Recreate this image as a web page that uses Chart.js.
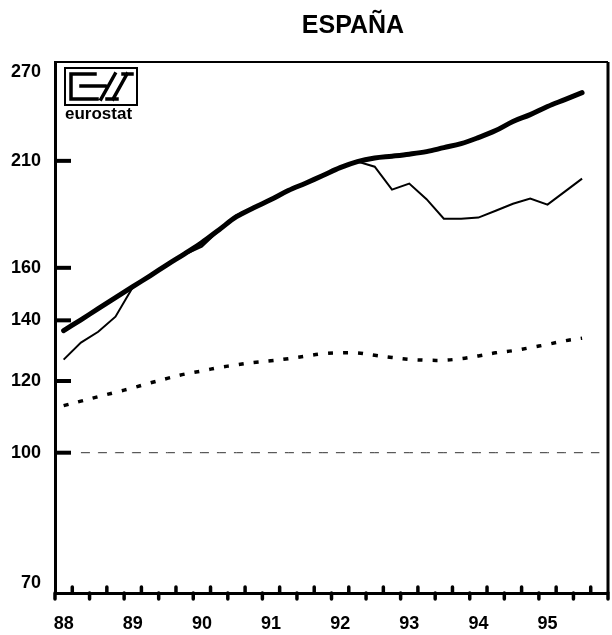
<!DOCTYPE html>
<html>
<head>
<meta charset="utf-8">
<script src="https://cdn.jsdelivr.net/npm/chart.js@4.4.1/dist/chart.umd.min.js"></script>
<style>
  html, body { margin: 0; padding: 0; background: #fff; }
</style>
</head>
<body>
<canvas id="chart" width="612" height="635"></canvas>
<script>
// ========== DATA ==========
const years = ['88', '89', '90', '91', '92', '93', '94', '95'];
const quarters = years.flatMap(y => ['Q1', 'Q2', 'Q3', 'Q4'].map(q => y + q));

// thick smooth line (trend)
const trendSeries = [136.4, 140.2, 144.2, 148.3, 152.5, 156.8, 161.3, 165.8, 170.6, 176.3,
  182.2, 186.4, 190.3, 194.7, 198.4, 202.3, 206.4, 209.6, 211.5, 212.5,
  213.6, 215.0, 217.2, 219.4, 222.8, 226.8, 232.1, 236.2, 241.1, 245.4, 249.8];

// thin line (observed)
const actualSeries = [126.7, 132.3, 136.0, 141.3, 152.3, 156.5, 161.5, 165.5, 168.8, 176.0,
  183.0, 186.4, 190.0, 194.5, 198.5, 202.0, 206.2, 209.6, 206.9, 195.2,
  198.2, 190.5, 181.3, 181.3, 181.8, 185.0, 188.3, 190.8, 187.9, 194.2, 200.7];

// dotted line
const dottedSeries = [112.7, 114.0, 115.3, 116.6, 117.9, 119.4, 120.8, 122.1, 123.1, 124.2,
  125.0, 125.8, 126.3, 127.0, 127.8, 128.6, 128.9, 128.9, 128.1, 127.4,
  126.8, 126.5, 126.5, 127.0, 127.9, 128.9, 129.6, 130.6, 131.7, 132.9, 133.8];

const refLevel = 100;
const yTicks = [70, 100, 120, 140, 160, 210, 270];

const FONT = '"Liberation Sans", Arial, Helvetica, sans-serif';

// ========== DECORATION PLUGIN ==========
const frame = {
    id: 'frame',
    afterDraw(chart) {
        const { ctx, chartArea: a, scales: { x, y } } = chart;
        ctx.save();
        ctx.strokeStyle = '#000';
        ctx.fillStyle = '#000';

        // top and right border
        ctx.lineWidth = 2;
        ctx.beginPath(); ctx.moveTo(a.left, a.top); ctx.lineTo(a.right, a.top); ctx.stroke();
        ctx.lineWidth = 3;
        ctx.beginPath(); ctx.moveTo(a.right, a.top); ctx.lineTo(a.right, a.bottom); ctx.stroke();

        // quarter ticks, alternating down / up
        ctx.lineWidth = 3.5;
        ctx.lineCap = 'round';
        for (let k = 0; k <= quarters.length; k++) {
            const px = x.getPixelForValue(k - 0.5);
            const dir = k % 2 === 0 ? 1 : -1;
            ctx.beginPath();
            ctx.moveTo(px, a.bottom);
            ctx.lineTo(px, a.bottom + dir * 6);
            ctx.stroke();
        }

        // y ticks and labels
        ctx.lineCap = 'butt';
        ctx.lineWidth = 4;
        ctx.font = 'bold 18px ' + FONT;
        ctx.textAlign = 'right';
        ctx.textBaseline = 'middle';
        yTicks.forEach(v => {
            const py = y.getPixelForValue(v);
            if (v !== yTicks[0] && v !== yTicks[yTicks.length - 1]) {
                ctx.beginPath(); ctx.moveTo(a.left, py); ctx.lineTo(a.left + 16, py); ctx.stroke();
            }
            const ly = Math.min(Math.max(py, a.top + 10), a.bottom - 10);
            ctx.fillText(String(v), 41, ly);
        });

        // title
        ctx.textAlign = 'center';
        ctx.font = 'bold 25px ' + FONT;
        ctx.fillText('ESPAÑA', 353, 26);

        // eurostat logo
        const lx = a.left + 10, ly0 = a.top + 6;
        ctx.lineWidth = 2;
        ctx.strokeRect(lx, ly0, 72, 37);
        ctx.lineWidth = 3.5;
        ctx.lineCap = 'square';
        ctx.beginPath();
        ctx.moveTo(lx + 6, ly0 + 6); ctx.lineTo(lx + 30, ly0 + 6);
        ctx.moveTo(lx + 6, ly0 + 6); ctx.lineTo(lx + 6, ly0 + 31);
        ctx.moveTo(lx + 6, ly0 + 31); ctx.lineTo(lx + 32, ly0 + 31);
        ctx.moveTo(lx + 16, ly0 + 18); ctx.lineTo(lx + 40, ly0 + 18);
        ctx.moveTo(lx + 36, ly0 + 31); ctx.lineTo(lx + 50, ly0 + 6);
        ctx.moveTo(lx + 48, ly0 + 31); ctx.lineTo(lx + 62, ly0 + 6);
        ctx.moveTo(lx + 58, ly0 + 6); ctx.lineTo(lx + 67, ly0 + 6);
        ctx.moveTo(lx + 42, ly0 + 31); ctx.lineTo(lx + 52, ly0 + 31);
        ctx.stroke();
        ctx.textAlign = 'left';
        ctx.textBaseline = 'alphabetic';
        ctx.font = 'bold 17px ' + FONT;
        ctx.fillText('eurostat', lx, ly0 + 51, 72);

        ctx.restore();
    }
};

// ========== CHART ==========
const ctx = document.getElementById('chart').getContext('2d');
new Chart(ctx, {
    type: 'line',
    data: {
        labels: quarters,
        datasets: [
            {
                label: 'trend',
                data: trendSeries,
                borderColor: '#000',
                borderWidth: 5,
                tension: 0.35,
                pointRadius: 0,
                borderCapStyle: 'round'
            },
            {
                label: 'actual',
                data: actualSeries,
                borderColor: '#000',
                borderWidth: 2,
                tension: 0,
                pointRadius: 0
            },
            {
                label: 'dotted',
                data: dottedSeries,
                borderColor: '#000',
                borderWidth: 3.5,
                borderDash: [5, 10],
                tension: 0.35,
                pointRadius: 0
            },
            {
                label: 'ref',
                data: quarters.map((q, i) => (i === 0 ? null : refLevel)),
                borderColor: '#333',
                borderWidth: 1,
                borderDash: [9, 8],
                tension: 0,
                pointRadius: 0
            }
        ]
    },
    options: {
        responsive: false,
        animation: false,
        layout: { padding: { top: 62, right: 4, left: 0, bottom: 0 } },
        plugins: { legend: { display: false }, title: { display: false }, tooltip: { enabled: false } },
        scales: {
            x: {
                type: 'category',
                offset: true,
                grid: { display: false, drawTicks: false },
                border: { display: true, color: '#000', width: 3 },
                ticks: {
                    autoSkip: false,
                    maxRotation: 0,
                    padding: 20,
                    color: '#000',
                    font: { family: FONT, size: 18, weight: 'bold' },
                    callback: (v, i) => (i % 4 === 0 ? years[i / 4] : '')
                },
                afterFit: s => { s.height = 42; s.paddingLeft = 0; s.paddingRight = 0; }
            },
            y: {
                type: 'logarithmic',
                min: 70,
                max: 270,
                afterBuildTicks: s => { s.ticks = yTicks.map(v => ({ value: v })); },
                grid: { display: false, drawTicks: false },
                border: { display: true, color: '#000', width: 3 },
                ticks: { display: false },
                afterFit: s => { s.width = 55; s.paddingTop = 0; s.paddingBottom = 0; }
            }
        }
    },
    plugins: [frame]
});
</script>
</body>
</html>
